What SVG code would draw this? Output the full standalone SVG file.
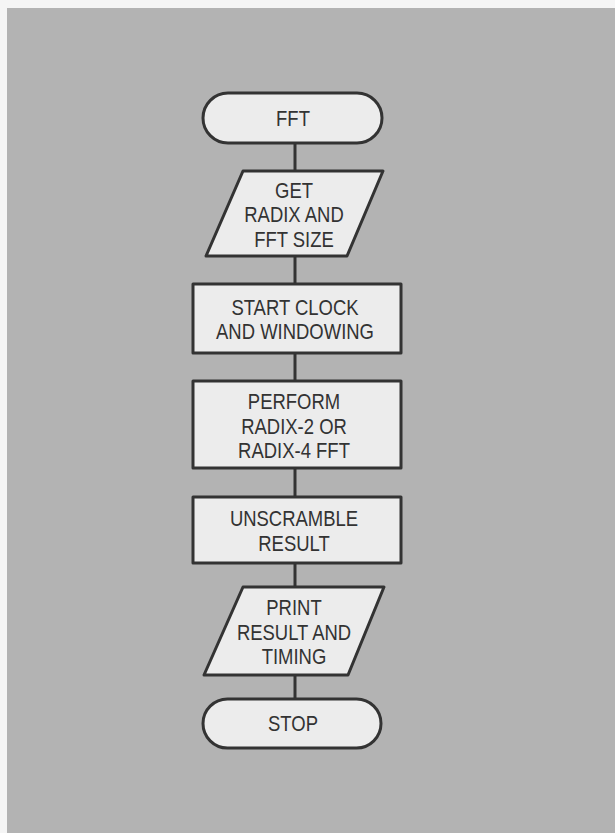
<svg xmlns="http://www.w3.org/2000/svg" width="615" height="833" viewBox="0 0 615 833">
<style>
.bg{fill:#f5f5f5}
.panel{fill:#b3b3b3}
.shape{fill:#ececec;stroke:#333;stroke-width:3;stroke-linejoin:round}
.conn{stroke:#333;stroke-width:3;fill:none}
text{font-family:"Liberation Sans",Arial,sans-serif;font-size:22px;fill:#333;text-anchor:middle;dominant-baseline:central}
</style>
<rect class="bg" x="0" y="0" width="615" height="833"/>
<rect class="panel" x="7" y="8" width="608" height="825"/>
<g id="connectors">
<line class="conn" x1="295" y1="143" x2="295" y2="171"/>
<line class="conn" x1="295" y1="256" x2="295" y2="284"/>
<line class="conn" x1="295" y1="353" x2="295" y2="381"/>
<line class="conn" x1="295" y1="468" x2="295" y2="497"/>
<line class="conn" x1="295" y1="563" x2="295" y2="587"/>
<line class="conn" x1="295" y1="675" x2="295" y2="699"/>
</g>
<g id="start">
<rect class="shape" x="203" y="93" width="179" height="50" rx="25" ry="25"/>
<text transform="translate(293,118) scale(0.84,1)">FFT</text>
</g>
<g id="get">
<polygon class="shape" points="243,171 383,171 347,256 206,256"/>
<text transform="translate(294,190) scale(0.84,1)">GET</text>
<text transform="translate(294,214) scale(0.84,1)">RADIX AND</text>
<text transform="translate(294,239) scale(0.84,1)">FFT SIZE</text>
</g>
<g id="clock">
<rect class="shape" x="193" y="284" width="208" height="69"/>
<text transform="translate(295,307) scale(0.84,1)">START CLOCK</text>
<text transform="translate(295,331) scale(0.84,1)">AND WINDOWING</text>
</g>
<g id="perform">
<rect class="shape" x="193" y="381" width="208" height="87"/>
<text transform="translate(294,401) scale(0.84,1)">PERFORM</text>
<text transform="translate(294,426) scale(0.84,1)">RADIX-2 OR</text>
<text transform="translate(294,450) scale(0.84,1)">RADIX-4 FFT</text>
</g>
<g id="unscramble">
<rect class="shape" x="193" y="497" width="208" height="66"/>
<text transform="translate(294,518) scale(0.84,1)">UNSCRAMBLE</text>
<text transform="translate(294,543) scale(0.84,1)">RESULT</text>
</g>
<g id="print">
<polygon class="shape" points="243,587 384,587 348,675 204,675"/>
<text transform="translate(294,607) scale(0.84,1)">PRINT</text>
<text transform="translate(294,632) scale(0.84,1)">RESULT AND</text>
<text transform="translate(294,656) scale(0.84,1)">TIMING</text>
</g>
<g id="stop">
<rect class="shape" x="203" y="699" width="178" height="49" rx="24.5" ry="24.5"/>
<text transform="translate(293,723) scale(0.84,1)">STOP</text>
</g>
</svg>
